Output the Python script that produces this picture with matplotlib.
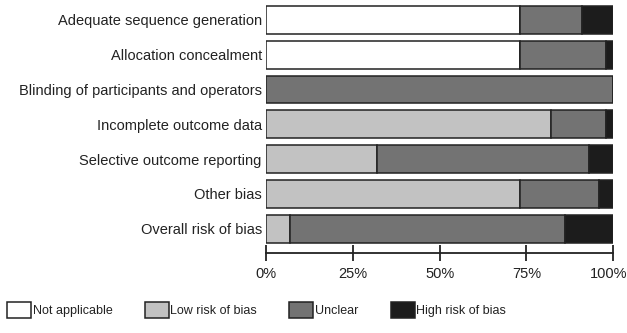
import matplotlib
matplotlib.use("Agg")
import matplotlib.pyplot as plt
import matplotlib.transforms as mtransforms
import numpy as np

plt.rcParams['font.family'] = ['Liberation Sans', 'DejaVu Sans']

categories = ["Adequate sequence generation", "Allocation concealment",
              "Blinding of participants and operators", "Incomplete outcome data",
              "Selective outcome reporting", "Other bias", "Overall risk of bias"]
not_applicable = [73, 73, 0, 0, 0, 0, 0]
low_risk = [0, 0, 0, 82, 32, 73, 7]
unclear = [18, 25, 100, 16, 61, 23, 79]
high_risk = [9, 2, 0, 2, 7, 4, 14]
series_names = ["Not applicable", "Low risk of bias", "Unclear", "High risk of bias"]
colors = ["#ffffff", "#c2c2c2", "#737373", "#1c1c1c"]
xticks = [0, 25, 50, 75, 100]
xtick_labels = ["0%", "25%", "50%", "75%", "100%"]

W, H = 627, 333
FS = 10.5
LFS = 9
fig = plt.figure(figsize=(W / 100, H / 100), dpi=100)
ax = fig.add_axes([266 / W, 1 - 253 / H, (613.3 - 266) / W, 253 / H])

y = np.arange(len(categories))
left = np.zeros(len(categories))
for vals, name, c in zip([not_applicable, low_risk, unclear, high_risk], series_names, colors):
    v = np.array(vals, dtype=float)
    ax.barh(y, v, left=left, height=0.8, color=c, edgecolor="#222222",
            linewidth=1.1, label=name)
    left += v

ax.set_xlim(0, 100)
ax.set_ylim(6.70, -0.575)
ax.set_yticks(y)
ax.set_yticklabels(categories, fontsize=FS, color="#222222")
ax.tick_params(axis='y', length=0, pad=3)
ax.set_xticks(xticks)
ax.set_xticklabels(xtick_labels, fontsize=FS, color="#222222")
ax.tick_params(axis='x', direction='inout', length=11, width=1.3, pad=4.5, color="#222222")
last = ax.get_xticklabels()[-1]
last.set_transform(last.get_transform() +
                   mtransforms.ScaledTranslation(-5 / 100, 0, fig.dpi_scale_trans))
for s in ["top", "right", "left"]:
    ax.spines[s].set_visible(False)
ax.spines["bottom"].set_linewidth(1.3)
ax.spines["bottom"].set_color("#222222")
ax.patch.set_alpha(0)

handles, labels = ax.get_legend_handles_labels()
leg = fig.legend(handles, labels, loc="center left", bbox_to_anchor=(7 / W, 1 - 310 / H),
                 ncol=4, frameon=False, fontsize=LFS, handlelength=1.92,
                 handleheight=1.6, handletextpad=0.15, columnspacing=2.56,
                 borderaxespad=0, borderpad=0)
for t in leg.get_texts():
    t.set_color("#222222")

fig.savefig("out.png", dpi=100)
